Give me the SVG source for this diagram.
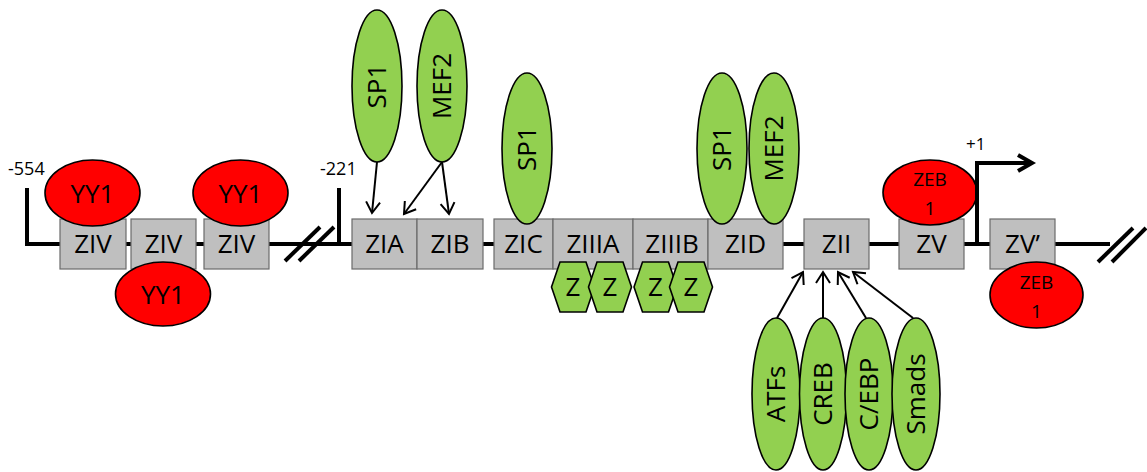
<svg xmlns="http://www.w3.org/2000/svg" width="1147" height="472" viewBox="0 0 1147 472">
  <style>
    .dna { stroke: #000; stroke-width: 4; fill: none; }
    .box { fill: #bfbfbf; stroke: #6b6b6b; stroke-width: 1.2; }
    .green { fill: #92d050; stroke: #000; stroke-width: 1.6; }
    .red { fill: #ff0000; stroke: #000; stroke-width: 1.6; }
    .lbl { font-family: "Open Sans", "Liberation Sans", sans-serif; font-size: 26px; fill: #000; text-anchor: middle; }
    .small { font-family: "Open Sans", "Liberation Sans", sans-serif; font-size: 19px; fill: #000; text-anchor: middle; }
    .pos { font-family: "Open Sans", "Liberation Sans", sans-serif; font-size: 18px; fill: #000; }
    .arrow { stroke: #000; stroke-width: 2; fill: none; marker-end: url(#open); }
  </style>
  <defs>
    <marker id="open" markerUnits="userSpaceOnUse" markerWidth="20" markerHeight="20" refX="0" refY="0" viewBox="-12 -10 14 20" orient="auto">
      <path d="M-11,-7 L0,0 L-11,7" fill="none" stroke="#000" stroke-width="2"/>
    </marker>
    <polygon id="hex" points="-21.5,0 -13,-25 13,-25 21.5,0 13,25 -13,25"/>
  </defs>
  <rect width="1147" height="472" fill="#fff"/>

  <!-- promoter backbone -->
  <g id="backbone">
    <polyline class="dna" points="27,188 27,244 300,244"/>
    <line class="dna" x1="300" y1="244" x2="352" y2="244"/>
    <polyline class="dna" points="339,188 339,244"/>
    <line class="dna" x1="352" y1="244" x2="1110" y2="244"/>
    <line class="dna" x1="285" y1="261" x2="320" y2="227"/>
    <line class="dna" x1="299" y1="261" x2="334" y2="227"/>
    <line class="dna" x1="1098" y1="262" x2="1133" y2="228"/>
    <line class="dna" x1="1112" y1="262" x2="1146" y2="228"/>
    <text class="pos" x="8" y="175">-554</text>
    <text class="pos" x="320" y="175">-221</text>
  </g>

  <!-- E-box sites -->
  <g id="ZIV-1"><rect class="box" x="60" y="219" width="66" height="50"/><text class="lbl" x="93" y="253">ZIV</text></g>
  <g id="ZIV-2"><rect class="box" x="131" y="219" width="65" height="50"/><text class="lbl" x="163.5" y="253">ZIV</text></g>
  <g id="ZIV-3"><rect class="box" x="204" y="219" width="65" height="50"/><text class="lbl" x="236.5" y="253">ZIV</text></g>
  <g id="ZIA"><rect class="box" x="352" y="219" width="65" height="50"/><text class="lbl" x="384.5" y="253">ZIA</text></g>
  <g id="ZIB"><rect class="box" x="417" y="219" width="66" height="50"/><text class="lbl" x="450" y="253">ZIB</text></g>
  <g id="ZIC"><rect class="box" x="494" y="219" width="59" height="50"/><text class="lbl" x="523.5" y="253">ZIC</text></g>
  <g id="ZIIIA"><rect class="box" x="553" y="219" width="80" height="50"/><text class="lbl" x="593" y="253">ZIIIA</text></g>
  <g id="ZIIIB"><rect class="box" x="633" y="219" width="75" height="50"/><text class="lbl" x="672" y="253">ZIIIB</text></g>
  <g id="ZID"><rect class="box" x="708" y="219" width="75" height="50"/><text class="lbl" x="745.5" y="253">ZID</text></g>
  <g id="ZII"><rect class="box" x="804" y="219" width="65" height="50"/><text class="lbl" x="836.5" y="253">ZII</text></g>
  <g id="ZV"><rect class="box" x="899" y="219" width="65" height="50"/><text class="lbl" x="931.5" y="253">ZV</text></g>
  <g id="ZVprime"><rect class="box" x="990" y="219" width="65" height="50"/><text class="lbl" x="1022.5" y="253">ZV’</text></g>

  <!-- YY1 repressors -->
  <g id="YY1-a"><ellipse class="red" cx="92.5" cy="193" rx="47.5" ry="33"/><text class="lbl" x="92.5" y="203">YY1</text></g>
  <g id="YY1-b"><ellipse class="red" cx="240.5" cy="193" rx="47.5" ry="33"/><text class="lbl" x="240.5" y="203">YY1</text></g>
  <g id="YY1-c"><ellipse class="red" cx="163" cy="294" rx="47.5" ry="32"/><text class="lbl" x="163" y="304">YY1</text></g>

  <!-- ZEB1 -->
  <g id="ZEB1-a"><ellipse class="red" cx="930" cy="192.5" rx="47" ry="32.5"/><text class="small" x="930" y="186">ZEB</text><text class="small" x="930" y="215">1</text></g>
  <g id="ZEB1-b"><ellipse class="red" cx="1036.5" cy="295" rx="46.5" ry="33"/><text class="small" x="1036.5" y="288.5">ZEB</text><text class="small" x="1036.5" y="317.5">1</text></g>

  <!-- Z binding sites -->
  <g id="Z-1"><use href="#hex" class="green" x="573" y="287"/><text class="lbl" x="573" y="296">Z</text></g>
  <g id="Z-2"><use href="#hex" class="green" x="610" y="287"/><text class="lbl" x="610" y="296">Z</text></g>
  <g id="Z-3"><use href="#hex" class="green" x="655.5" y="287"/><text class="lbl" x="655.5" y="296">Z</text></g>
  <g id="Z-4"><use href="#hex" class="green" x="691" y="287"/><text class="lbl" x="691" y="296">Z</text></g>

  <!-- upstream activators -->
  <g id="SP1-a"><ellipse class="green" cx="377" cy="86" rx="25" ry="76"/><text class="lbl" x="377" y="95" transform="rotate(-90 377 86)">SP1</text></g>
  <g id="MEF2-a"><ellipse class="green" cx="442" cy="86" rx="25" ry="76"/><text class="lbl" x="442" y="95" transform="rotate(-90 442 86)">MEF2</text></g>
  <g id="SP1-b"><ellipse class="green" cx="527" cy="148.5" rx="25" ry="75.5"/><text class="lbl" x="527" y="157.5" transform="rotate(-90 527 148.5)">SP1</text></g>
  <g id="SP1-c"><ellipse class="green" cx="722" cy="148.5" rx="25" ry="75.5"/><text class="lbl" x="722" y="157.5" transform="rotate(-90 722 148.5)">SP1</text></g>
  <g id="MEF2-b"><ellipse class="green" cx="774" cy="148.5" rx="25" ry="75.5"/><text class="lbl" x="774" y="157.5" transform="rotate(-90 774 148.5)">MEF2</text></g>

  <!-- ZII binders -->
  <g id="ATFs"><ellipse class="green" cx="776" cy="394" rx="24" ry="76"/><text class="lbl" x="776" y="403" transform="rotate(-90 776 394)">ATFs</text></g>
  <g id="CREB"><ellipse class="green" cx="823" cy="394" rx="23.5" ry="76"/><text class="lbl" x="823" y="403" transform="rotate(-90 823 394)">CREB</text></g>
  <g id="CEBP"><ellipse class="green" cx="869" cy="394" rx="24" ry="76"/><text class="lbl" x="869" y="403" transform="rotate(-90 869 394)">C/EBP</text></g>
  <g id="Smads"><ellipse class="green" cx="916" cy="394" rx="24" ry="76"/><text class="lbl" x="916" y="403" transform="rotate(-90 916 394)">Smads</text></g>

  <!-- connectors -->
  <g id="connectors">
    <line class="arrow" x1="377" y1="162" x2="372" y2="213"/>
    <line class="arrow" x1="442" y1="162" x2="404" y2="214"/>
    <line class="arrow" x1="442" y1="162" x2="449" y2="214"/>
    <line class="arrow" x1="777" y1="318" x2="803" y2="272"/>
    <line class="arrow" x1="823" y1="318" x2="823" y2="272"/>
    <line class="arrow" x1="866" y1="318" x2="838" y2="272"/>
    <line class="arrow" x1="913" y1="318" x2="853" y2="272"/>
  </g>

  <!-- transcription start -->
  <g id="TSS">
    <polyline class="dna" points="977,244 977,163 1031,163"/>
    <polyline class="dna" points="1018,155 1032,163 1018,171" stroke-linejoin="miter"/>
    <text class="pos" x="966" y="150" style="font-size:17px">+1</text>
  </g>
</svg>
